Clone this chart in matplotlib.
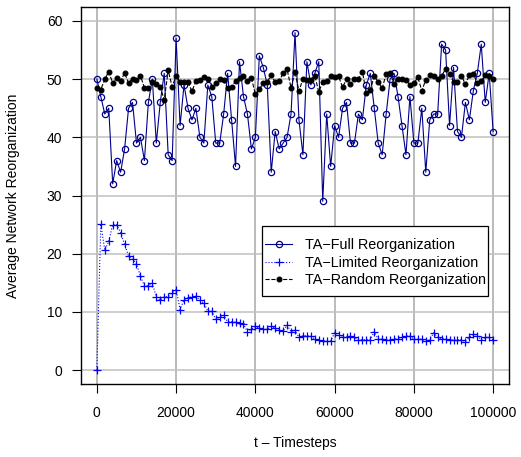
import matplotlib
matplotlib.use("Agg")
import matplotlib.pyplot as plt
from matplotlib.lines import Line2D
from matplotlib.patches import Rectangle

plt.rcParams['font.family'] = ['Liberation Sans', 'DejaVu Sans']

W, H = 521, 457

# sampled every 1000 timesteps
timesteps = list(range(0, 100001, 1000))

full_reorg = [50, 47, 44, 45, 32, 36, 34, 38, 45, 46, 39, 40, 36, 46, 50, 39, 46, 51, 37, 36,
              57, 42, 49, 45, 43, 45, 40, 39, 49, 47, 39, 39, 44, 51, 43, 35, 53, 47, 44, 38,
              40, 54, 52, 49, 34, 41, 38, 39, 40, 44, 58, 43, 37, 53, 49, 51, 53, 29, 44, 35,
              42, 40, 45, 46, 39, 39, 44, 43, 49, 51, 45, 39, 37, 44, 50, 51, 47, 42, 37, 47,
              39, 39, 45, 34, 43, 44, 44, 56, 55, 42, 52, 41, 40, 46, 43, 48, 51, 56, 46, 51,
              41]

limited_reorg = [0, 25.1, 20.6, 22.1, 25.0, 25.0, 23.6, 21.6, 19.6, 19.0, 18.3, 16.1, 14.5, 14.5,
                 14.9, 12.6, 12.0, 12.6, 12.6, 13.3, 13.8, 10.4, 12.1, 12.4, 12.6, 12.7, 12.0,
                 11.5, 10.1, 10.1, 8.7, 9.1, 9.4, 8.3, 8.3, 8.2, 8.0, 7.9, 6.6, 7.0, 7.5, 7.2,
                 7.0, 7.0, 7.5, 7.2, 6.9, 6.7, 7.7, 6.6, 6.9, 5.6, 5.9, 5.9, 5.8, 5.3, 5.2, 5.0,
                 5.0, 5.0, 6.4, 6.1, 5.6, 5.6, 5.8, 5.6, 5.2, 5.2, 5.2, 5.2, 6.6, 5.3, 5.3, 5.2,
                 5.2, 5.3, 5.4, 5.6, 5.9, 5.8, 5.3, 5.3, 5.3, 5.0, 5.2, 6.4, 5.6, 5.4, 5.3, 5.2,
                 5.2, 5.2, 5.2, 4.9, 5.6, 6.2, 5.9, 5.2, 5.6, 5.6, 5.2]

random_reorg = [48.4, 48.2, 50.0, 51.3, 49.3, 50.2, 49.6, 51.1, 49.3, 50.1, 49.8, 50.6, 48.5,
                48.5, 49.5, 49.1, 48.7, 46.4, 51.5, 48.7, 50.6, 49.5, 49.5, 49.5, 47.9, 49.7,
                49.9, 50.4, 50.0, 48.7, 49.4, 50.1, 49.8, 48.4, 48.6, 49.7, 50.2, 50.5, 49.7,
                50.2, 47.4, 48.3, 49.3, 49.5, 50.7, 49.5, 49.7, 51.0, 51.7, 48.5, 51.3, 47.9,
                50.1, 49.9, 49.9, 50.6, 47.8, 49.5, 49.7, 50.6, 50.3, 50.5, 48.6, 50.0, 49.2,
                50.1, 50.0, 51.3, 47.6, 48.2, 50.5, 49.5, 48.4, 50.9, 51.1, 49.1, 50.0, 50.0,
                49.9, 49.0, 49.3, 50.3, 48.0, 49.9, 50.7, 50.6, 50.0, 50.6, 51.7, 50.9, 49.5,
                49.5, 50.6, 49.1, 50.7, 50.9, 49.4, 49.7, 50.7, 50.5, 50.0]

labels = ['TA\u2212Full Reorganization', 'TA\u2212Limited Reorganization',
          'TA\u2212Random Reorganization']

# line style, colour, marker, marker size, marker face for each series
styles = [
    ('-', '#00008b', 'o', 4.5, 'none'),
    (':', '#0000ff', '+', 6.0, '#0000ff'),
    ('--', 'black', 'o', 3.4, 'black'),
]

fig = plt.figure(figsize=(W / 100, H / 100), dpi=100)
ax = fig.add_axes([81 / W, 73 / H, 428 / W, 377 / H])

ax.set_xlim(-4000, 104000)
ax.set_ylim(-2.4, 62.4)

xt = [0, 20000, 40000, 60000, 80000, 100000]
yt = [0, 10, 20, 30, 40, 50, 60]
for x in xt:
    ax.axvline(x, color='#a8a8a8', lw=1.1, zorder=0)
for y in yt:
    ax.axhline(y, color='#c0c0c0', lw=1.1, zorder=0)

for series, (ls, col, mk, ms, mfc), z in zip([full_reorg, limited_reorg, random_reorg], styles, [2, 3, 4]):
    ax.plot(timesteps, series, ls=ls, color=col, lw=0.8, marker=mk, ms=ms,
            mfc=mfc, mec=col, mew=0.9, zorder=z)

ax.set_xticks(xt)
ax.set_xticklabels([str(x) for x in xt])
ax.set_yticks(yt)
ax.set_yticklabels([str(y) for y in yt])
ax.tick_params(direction='out', length=6.5, width=0.8, labelsize=10, color='black')
ax.tick_params(axis='x', pad=9)
ax.tick_params(axis='y', pad=7)
for s in ax.spines.values():
    s.set_linewidth(1.0)
    s.set_color('black')

fig.text(295 / W, 1 - 443 / H, 't \u2013 Timesteps', ha='center', va='center', fontsize=10)
fig.text(13 / W, 1 - 196 / H, 'Average Network Reorganization', ha='center', va='center',
         rotation=90, fontsize=10)

# legend box drawn in pixel positions
def fx(x):
    return x / W

def fy(y):
    return 1 - y / H

fig.add_artist(Rectangle((fx(262), fy(296)), fx(487.5) - fx(262), fy(226) - fy(296),
                         transform=fig.transFigure, facecolor='white', edgecolor='black',
                         lw=0.9, zorder=5))
for i, (lab, (ls, col, mk, ms, mfc)) in enumerate(zip(labels, styles)):
    yc = 244.3 + 17.5 * i
    fig.add_artist(Line2D([fx(265), fx(278.5), fx(292)], [fy(yc)] * 3,
                          transform=fig.transFigure, ls=ls, color=col, lw=0.8,
                          marker=mk, ms=ms, mfc=mfc, mec=col, mew=0.9,
                          markevery=[1], zorder=6))
    fig.text(fx(305), fy(yc + 5), lab, ha='left', va='baseline', fontsize=10.4, zorder=6)

fig.savefig('out.png', dpi=100)
